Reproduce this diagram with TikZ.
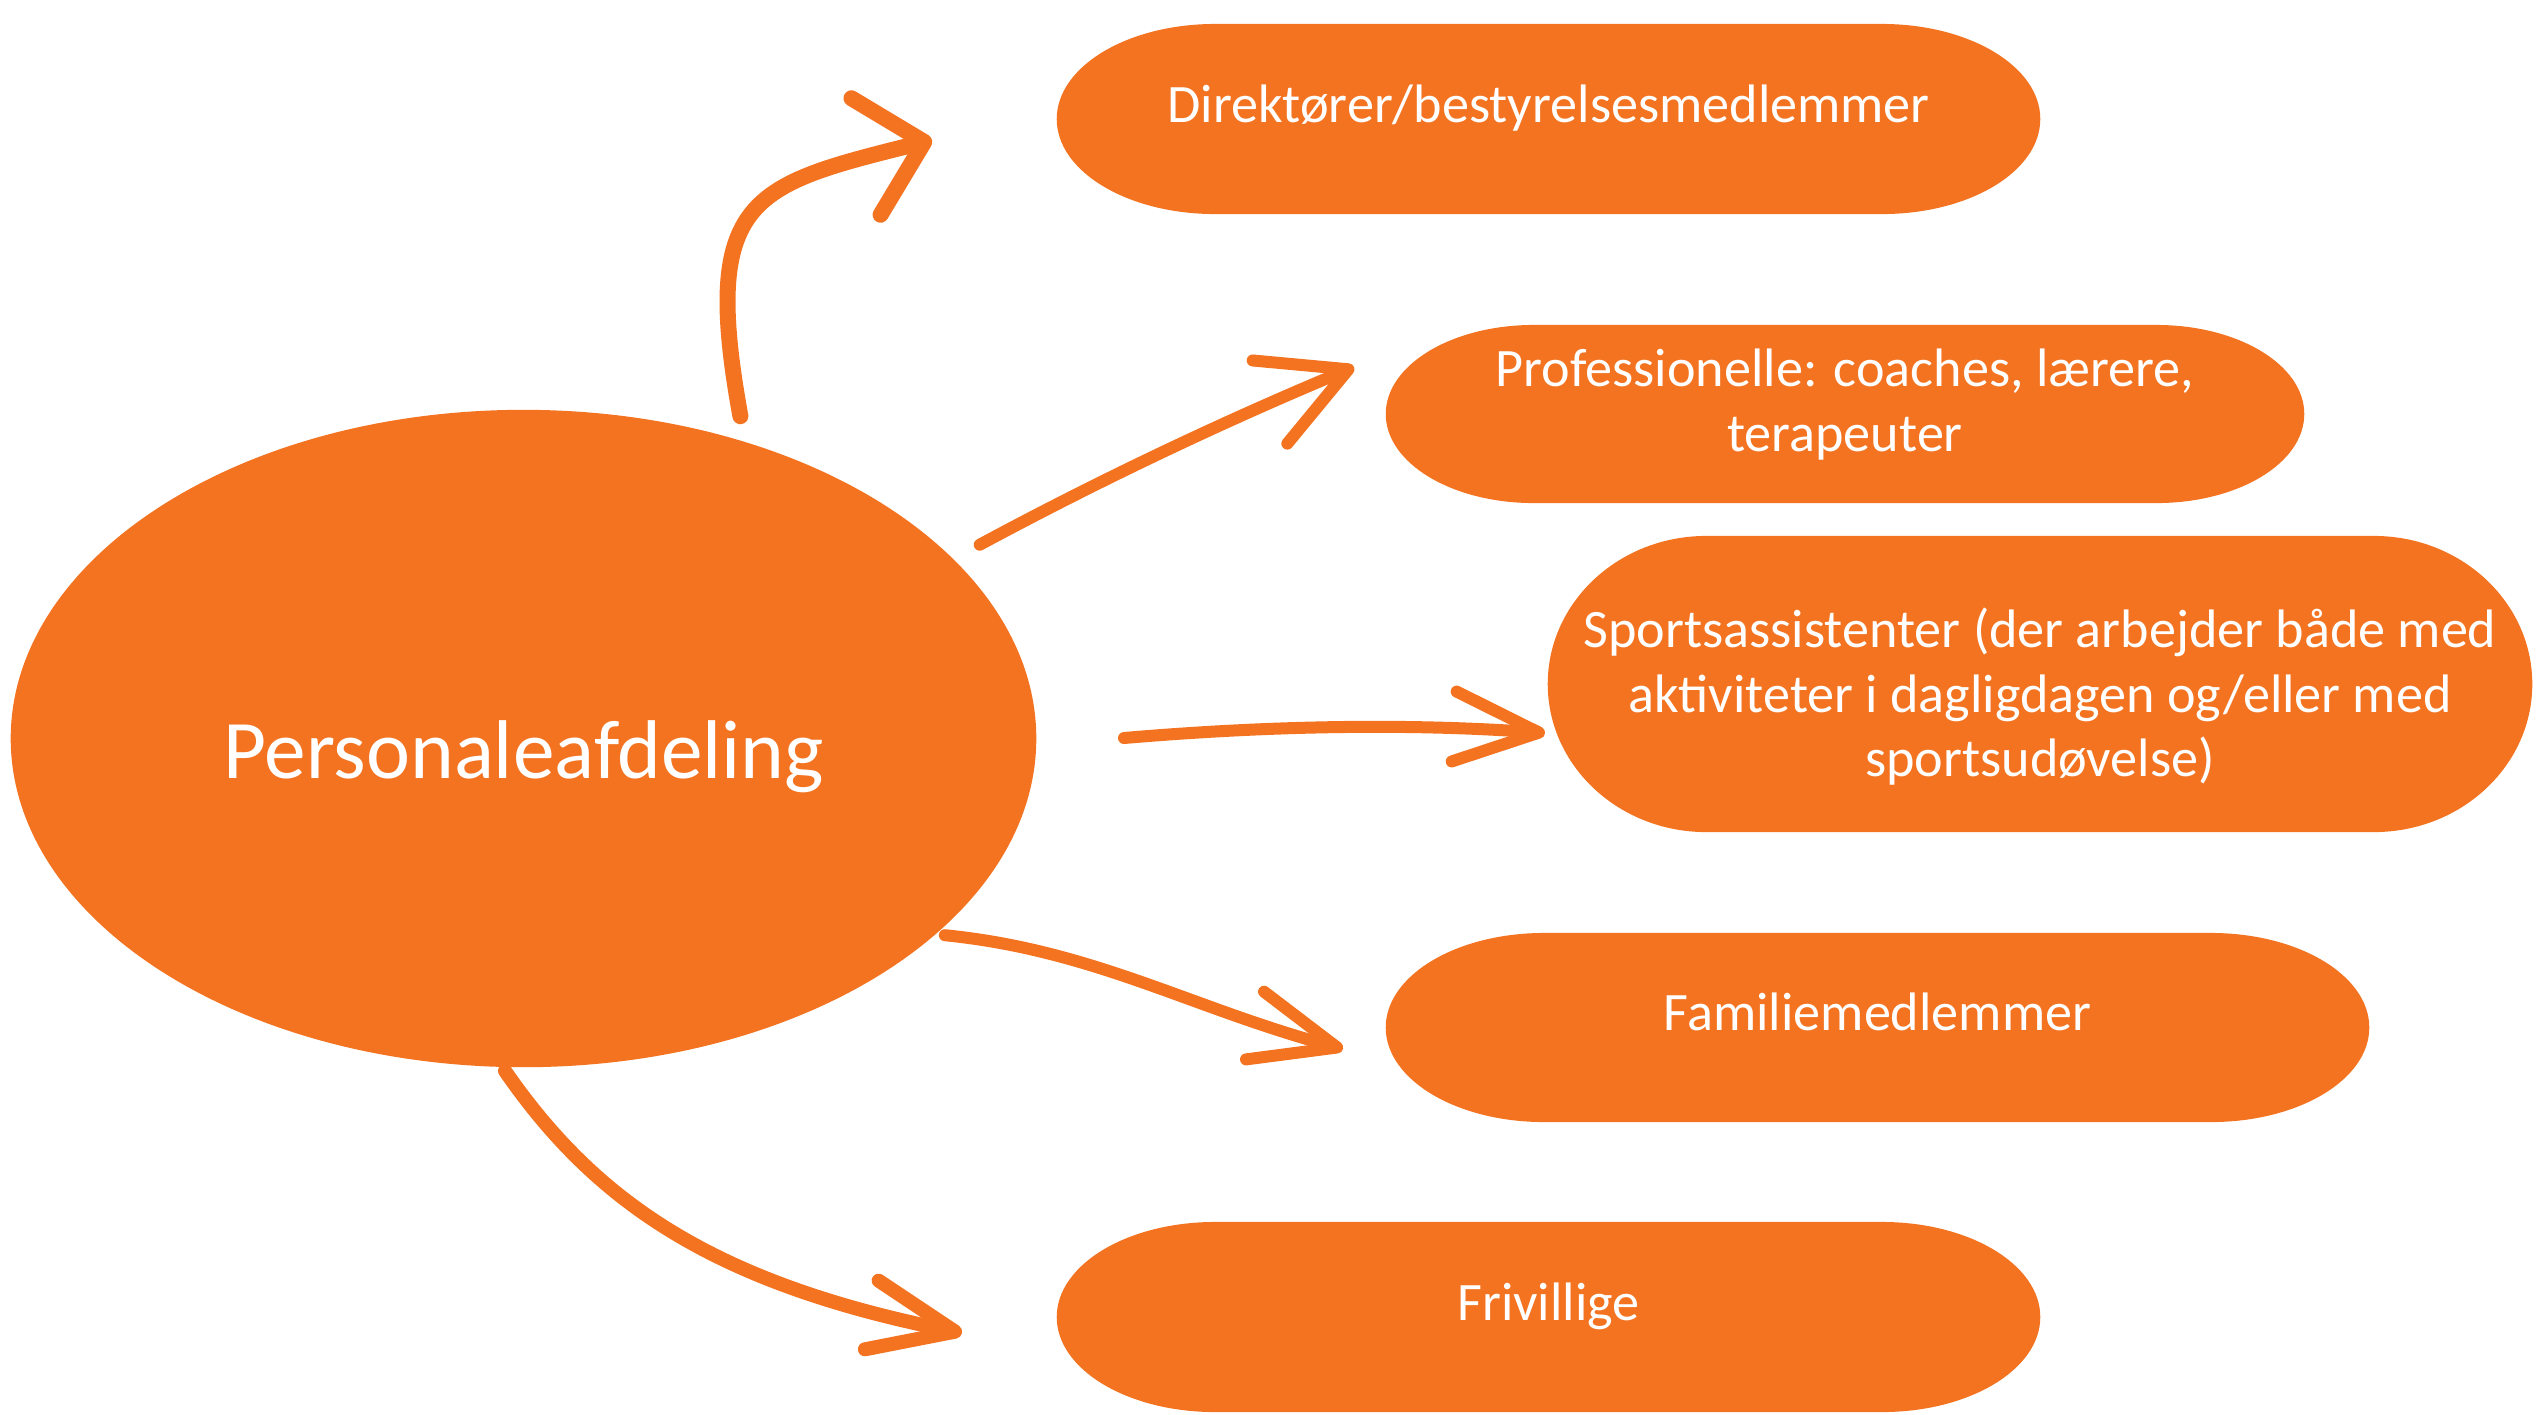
\documentclass[tikz,border=0pt]{standalone}
\usepackage{fontspec}
\setmainfont{Carlito}
\usetikzlibrary{arrows.meta, shapes.geometric, calc}
\definecolor{hrorange}{HTML}{F37321}
\newcommand{\termfont}{\fontsize{15.4pt}{18.3pt}\selectfont}
\newcommand{\persfont}{\fontsize{23.7pt}{28pt}\selectfont}

\begin{document}
\begin{tikzpicture}[
    x=0.01cm, y=0.01cm,
    termbox/.style={rectangle, inner sep=0pt, align=center, text=white, font=\termfont,
      text height=0.4cm, text depth=0.34cm,
      path picture={\fill[hrorange]
        let \p1=(path picture bounding box.south west), \p2=(path picture bounding box.north east),
            \n1={0.161*(\x2-\x1)}, \n2={0.5*(\y2-\y1)} in
        (\x1+\n1,\y1) -- (\x2-\n1,\y1)
        arc[start angle=-90, end angle=90, x radius=\n1, y radius=\n2]
        -- (\x1+\n1,\y2)
        arc[start angle=90, end angle=270, x radius=\n1, y radius=\n2] -- cycle;}},
    hub/.style={ellipse, fill=hrorange, inner sep=0pt, text=white, font=\persfont,
      minimum width=10.25cm, minimum height=6.57cm, text height=0.8cm, text depth=0.01cm},
    flow/.style={draw=hrorange, line width=0.12cm, line cap=round,
      -{Straight Barb[length=0.85cm, width=0.7cm, round]}}
  ]
  \useasboundingbox (0,0) rectangle (2539,-1414);
  \node[hub] (pers) at (523.5,-738.5) {Personaleafdeling};
  \node[termbox, minimum width=9.83cm, minimum height=1.9cm] (dir) at (1548.5,-119) {Direktører/bestyrelsesmedlemmer};
  \node[termbox, minimum width=9.18cm, minimum height=1.78cm, text height=1.1cm, text depth=0.36cm] (prof) at (1845,-414) {Professionelle: coaches, lærere,\\terapeuter};
  \node[termbox, minimum width=9.84cm, minimum height=2.96cm, text height=2.2cm, text depth=0.35cm] (sport) at (2040,-684) {Sportsassistenter (der arbejder både med\\aktiviteter i dagligdagen og/eller med\\sportsudøvelse)};
  \node[termbox, minimum width=9.83cm, minimum height=1.89cm] (fam) at (1877.5,-1027.5) {Familiemedlemmer};
  \node[termbox, minimum width=9.83cm, minimum height=1.9cm] (friv) at (1548.5,-1317) {Frivillige};
  % hand-drawn style arrows
  \draw[flow, line width=0.16cm, -{Straight Barb[length=0.6cm, width=1.2cm, round]}]
    ([shift={(13,20)}]pers.56) .. controls +(-40,220) and +(-180,-45) .. ([shift={(-124,-21)}]dir.west);
  \draw[flow, -{Straight Barb[length=0.85cm, width=0.9cm, round]}]
    ([shift={(28,12)}]pers.23.3) .. controls +(130,70) and +(-120,-50) .. ([shift={(-31,47)}]prof.west);
  \draw[flow] ([shift={(87,0.5)}]pers.east) .. controls +(140,12) and +(-140,10) .. ([shift={(-2,-49)}]sport.west);
  \draw[flow] ([shift={(6,-3)}]pers.-25.8) .. controls +(150,-15) and +(-150,40) .. ([shift={(-42,-21.5)}]fam.west);
  \draw[flow, line width=0.14cm] ([shift={(-18.5,-3)}]pers.south) .. controls +(90,-130) and +(-250,50) .. ([shift={(-94,-16)}]friv.west);
\end{tikzpicture}
\end{document}
